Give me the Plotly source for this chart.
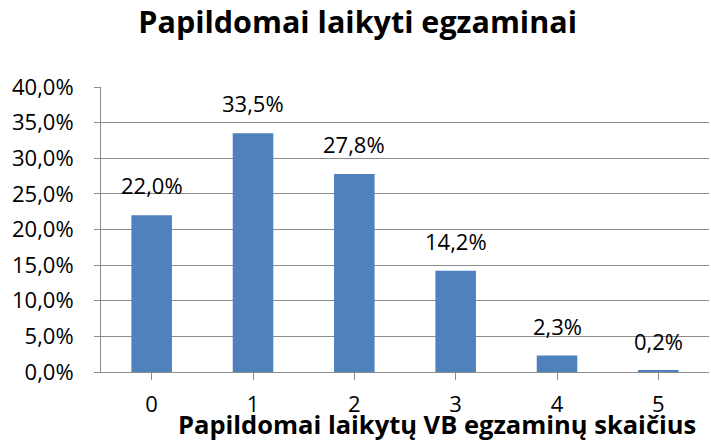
import plotly.graph_objects as go

# Number of extra state exams taken and share of students
categories = ["0", "1", "2", "3", "4", "5"]
shares = [0.220, 0.335, 0.278, 0.142, 0.023, 0.002]
y_ticks = [0.0, 0.05, 0.10, 0.15, 0.20, 0.25, 0.30, 0.35, 0.40]

title_text = "Papildomai laikyti egzaminai"
x_title_text = "Papildomai laikytų VB egzaminų skaičius"

FONT = "'Open Sans', Lato, sans-serif"
BAR_COLOR = "#4F81BD"
GRID = "#8c8c8c"

x_pos = list(range(len(categories)))

fig = go.Figure()
fig.add_trace(go.Bar(
    x=x_pos,
    y=shares,
    marker=dict(color=BAR_COLOR, line=dict(width=0)),
    width=0.4,
    hoverinfo="skip",
))

# value labels above each bar
for xi, v in zip(x_pos, shares):
    fig.add_annotation(
        x=xi, y=v, xref="x", yref="y",
        text=f"{v*100:.1f}%".replace(".", ","),
        showarrow=False, yanchor="bottom", yshift=13,
        font=dict(family=FONT, size=22, color="#000000"),
    )

# x-axis title (sits low, partly over the category labels)
fig.add_annotation(
    x=0.553, y=0, xref="paper", yref="paper",
    text=f"<b>{x_title_text}</b>",
    showarrow=False, xanchor="center", yanchor="middle", yshift=-52,
    font=dict(family=FONT, size=25.5, color="#000000"),
)

fig.update_layout(
    width=711, height=440,
    margin=dict(l=101, r=2, t=87, b=68),
    paper_bgcolor="#ffffff",
    plot_bgcolor="#ffffff",
    separators=",.",
    showlegend=False,
    title=dict(
        text=f"<b>{title_text}</b>",
        x=0.503, xref="container", xanchor="center",
        y=0.95, yref="container", yanchor="middle",
        font=dict(family=FONT, size=30.5, color="#000000"),
    ),
    xaxis=dict(
        range=[-0.5, 5.5],
        tickmode="array", tickvals=x_pos, ticktext=categories,
        tickson="boundaries",
        ticks="outside", ticklen=7, tickcolor=GRID, tickwidth=1,
        showline=True, linecolor=GRID, linewidth=1,
        showgrid=False, zeroline=False,
        tickfont=dict(family=FONT, size=22, color="#000000"),
        ticklabelstandoff=6,
        fixedrange=True,
    ),
    yaxis=dict(
        range=[0, 0.40],
        tickmode="array", tickvals=y_ticks,
        tickformat=".1%",
        ticks="outside", ticklen=6, tickcolor=GRID, tickwidth=1,
        showline=True, linecolor=GRID, linewidth=1,
        showgrid=True, gridcolor=GRID, gridwidth=1,
        zeroline=False,
        tickfont=dict(family=FONT, size=22, color="#000000"),
        ticklabelstandoff=16,
        fixedrange=True,
    ),
)

fig.write_html("out.html")
